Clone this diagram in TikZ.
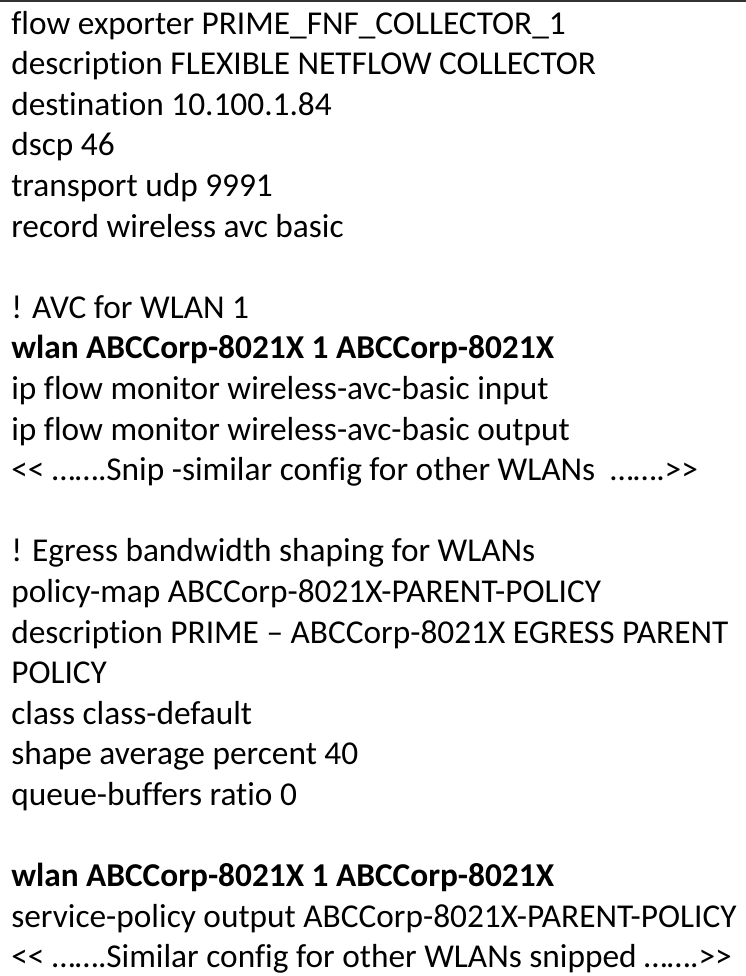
\documentclass[tikz,border=0pt]{standalone}
\usepackage{fontspec}
\setmainfont{Carlito}[Ligatures=NoCommon]
\usetikzlibrary{positioning}
\definecolor{rulegray}{HTML}{333333}
\tikzset{
    cfgline/.style={anchor=base west, inner sep=0pt, font=\fontsize{25}{30}\selectfont},
    cfgbold/.style={cfgline, font=\fontsize{25}{30}\selectfont\bfseries}
}

\begin{document}
\begin{tikzpicture}[x=0.75pt, y=0.75pt]
    \useasboundingbox (0, 0) rectangle (746, -976);
    \draw[rulegray, line width=1.5pt] (0, -1) -- (746, -1);

    % exporter block
    \node[cfgline] (exp1) at (11, -34) {flow exporter PRIME\_FNF\_COLLECTOR\_1};
    \node[cfgline] (exp2) at (11, -74.6) {description FLEXIBLE NETFLOW COLLECTOR};
    \node[cfgline] (exp3) at (11, -115.2) {destination 10.100.1.84};
    \node[cfgline] (exp4) at (11, -155.8) {dscp 46};
    \node[cfgline] (exp5) at (11, -196.4) {transport udp 9991};
    \node[cfgline] (exp6) at (11, -237) {record wireless avc basic};

    % avc block
    \node[cfgline] (avc1) at (11, -318.2) {! AVC for WLAN 1};
    \node[cfgbold] (avc2) at (11, -358.8) {wlan ABCCorp-8021X 1 ABCCorp-8021X};
    \node[cfgline] (avc3) at (11, -399.4) {ip flow monitor wireless-avc-basic input};
    \node[cfgline] (avc4) at (11, -440) {ip flow monitor wireless-avc-basic output};
    \node[cfgline] (avc5) at (11, -480.6) {<{}< …….Snip -similar config for other WLANs\ \ …….>{}>};

    % policy block
    \node[cfgline] (pol1) at (11, -561.8) {! Egress bandwidth shaping for WLANs};
    \node[cfgline] (pol2) at (11, -602.4) {policy-map ABCCorp-8021X-PARENT-POLICY};
    \node[cfgline] (pol3) at (11, -643) {description PRIME – ABCCorp-8021X EGRESS PARENT};
    \node[cfgline] (pol4) at (11, -683.6) {POLICY};
    \node[cfgline] (pol5) at (11, -724.2) {class class-default};
    \node[cfgline] (pol6) at (11, -764.8) {shape average percent 40};
    \node[cfgline] (pol7) at (11, -805.4) {queue-buffers ratio 0};

    % service policy block
    \node[cfgbold] (svc1) at (11, -886.6) {wlan ABCCorp-8021X 1 ABCCorp-8021X};
    \node[cfgline] (svc2) at (11, -927.2) {service-policy output ABCCorp-8021X-PARENT-POLICY};
    \node[cfgline] (svc3) at (11, -967.8) {<{}< …….Similar config for other WLANs snipped …….>{}>};
\end{tikzpicture}
\end{document}
